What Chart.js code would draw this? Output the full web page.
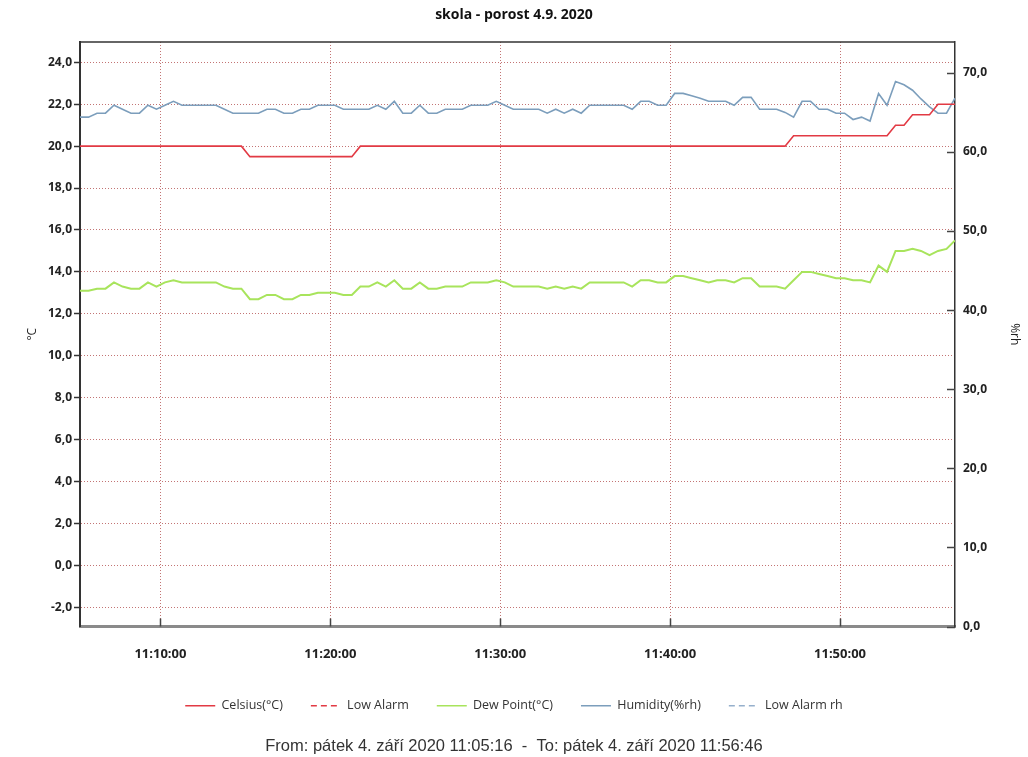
<!DOCTYPE html>
<html>
<head>
<meta charset="utf-8">
<script src="https://cdn.jsdelivr.net/npm/chart.js@4.4.0/dist/chart.umd.min.js"></script>
<style>
  html, body { margin: 0; padding: 0; background: #fff; overflow: hidden; }
  #wrap { width: 1028px; height: 757px; position: relative; }
</style>
</head>
<body>
<div id="wrap"><canvas id="chart"></canvas></div>
<script>
// logger: first sample 11:05:16, one sample every 30 s, last 11:56:46 (in minutes of the day)
const startTime = 11 * 60 + 5 + 16 / 60;
const endTime = 11 * 60 + 56 + 46 / 60;
const logInterval = 0.5;

const seriesNames = ['Celsius(°C)', 'Low Alarm', 'Dew Point(°C)', 'Humidity(%rh)', 'Low Alarm rh'];

const celsius = [
  20.0, 20.0, 20.0, 20.0, 20.0, 20.0, 20.0, 20.0, 20.0, 20.0,
  20.0, 20.0, 20.0, 20.0, 20.0, 20.0, 20.0, 20.0, 20.0, 20.0,
  19.5, 19.5, 19.5, 19.5, 19.5, 19.5, 19.5, 19.5, 19.5, 19.5,
  19.5, 19.5, 19.5, 20.0, 20.0, 20.0, 20.0, 20.0, 20.0, 20.0,
  20.0, 20.0, 20.0, 20.0, 20.0, 20.0, 20.0, 20.0, 20.0, 20.0,
  20.0, 20.0, 20.0, 20.0, 20.0, 20.0, 20.0, 20.0, 20.0, 20.0,
  20.0, 20.0, 20.0, 20.0, 20.0, 20.0, 20.0, 20.0, 20.0, 20.0,
  20.0, 20.0, 20.0, 20.0, 20.0, 20.0, 20.0, 20.0, 20.0, 20.0,
  20.0, 20.0, 20.0, 20.0, 20.5, 20.5, 20.5, 20.5, 20.5, 20.5,
  20.5, 20.5, 20.5, 20.5, 20.5, 20.5, 21.0, 21.0, 21.5, 21.5,
  21.5, 22.0, 22.0, 22.0
];

const dewPoint = [
  13.1, 13.1, 13.2, 13.2, 13.5, 13.3, 13.2, 13.2, 13.5, 13.3,
  13.5, 13.6, 13.5, 13.5, 13.5, 13.5, 13.5, 13.3, 13.2, 13.2,
  12.7, 12.7, 12.9, 12.9, 12.7, 12.7, 12.9, 12.9, 13.0, 13.0,
  13.0, 12.9, 12.9, 13.3, 13.3, 13.5, 13.3, 13.6, 13.2, 13.2,
  13.5, 13.2, 13.2, 13.3, 13.3, 13.3, 13.5, 13.5, 13.5, 13.6,
  13.5, 13.3, 13.3, 13.3, 13.3, 13.2, 13.3, 13.2, 13.3, 13.2,
  13.5, 13.5, 13.5, 13.5, 13.5, 13.3, 13.6, 13.6, 13.5, 13.5,
  13.8, 13.8, 13.7, 13.6, 13.5, 13.6, 13.6, 13.5, 13.7, 13.7,
  13.3, 13.3, 13.3, 13.2, 13.6, 14.0, 14.0, 13.9, 13.8, 13.7,
  13.7, 13.6, 13.6, 13.5, 14.3, 14.0, 15.0, 15.0, 15.1, 15.0,
  14.8, 15.0, 15.1, 15.5
];

const humidity = [
  64.4, 64.4, 64.9, 64.9, 65.9, 65.4, 64.9, 64.9, 65.9, 65.4,
  65.9, 66.4, 65.9, 65.9, 65.9, 65.9, 65.9, 65.4, 64.9, 64.9,
  64.9, 64.9, 65.4, 65.4, 64.9, 64.9, 65.4, 65.4, 65.9, 65.9,
  65.9, 65.4, 65.4, 65.4, 65.4, 65.9, 65.4, 66.4, 64.9, 64.9,
  65.9, 64.9, 64.9, 65.4, 65.4, 65.4, 65.9, 65.9, 65.9, 66.4,
  65.9, 65.4, 65.4, 65.4, 65.4, 64.9, 65.4, 64.9, 65.4, 64.9,
  65.9, 65.9, 65.9, 65.9, 65.9, 65.4, 66.4, 66.4, 65.9, 65.9,
  67.4, 67.4, 67.1, 66.8, 66.4, 66.4, 66.4, 65.9, 66.9, 66.9,
  65.4, 65.4, 65.4, 65.0, 64.4, 66.4, 66.4, 65.4, 65.4, 64.9,
  64.9, 64.1, 64.4, 63.9, 67.4, 65.9, 68.9, 68.5, 67.8, 66.7,
  65.7, 64.9, 64.9, 66.8
];

// no alarm events in this log
const lowAlarm = [];
const lowAlarmRh = [];

// axis ranges
const tempMin = -2.92, tempMax = 24.97, tempStep = 2;
const rhMin = 0, rhMax = 73.9, rhStep = 10;
const timeStep = 10;

const colors = {
  celsius: 'rgb(226,58,68)',
  dew: 'rgb(168,228,92)',
  humidity: 'rgb(124,158,188)',
  alarmRh: 'rgb(150,176,204)',
  grid: 'rgba(175,70,70,0.75)'
};

function toPoints(values) {
  return values.map((v, i) => ({ x: startTime + i * logInterval, y: v }));
}

function fmtTime(min) {
  const sec = Math.round(min * 60);
  const h = Math.floor(sec / 3600);
  const m = Math.floor((sec % 3600) / 60);
  const s = sec % 60;
  return String(h).padStart(2, '0') + ':' + String(m).padStart(2, '0') + ':' + String(s).padStart(2, '0');
}

function fmtNum(v) {
  return v.toFixed(1).replace('.', ',');
}

// horní rámeček a vnitřní značky na ose X a pravé ose
const frameLines = {
  id: 'frameLines',
  afterDatasetsDraw(chart) {
    const { ctx, chartArea: a, scales } = chart;
    ctx.save();
    ctx.strokeStyle = '#333';
    ctx.lineWidth = 1.5;
    ctx.beginPath();
    ctx.moveTo(a.left, a.top);
    ctx.lineTo(a.right, a.top);
    ctx.stroke();
    ctx.strokeStyle = '#444';
    ctx.beginPath();
    scales.x.ticks.forEach(t => {
      const px = Math.round(scales.x.getPixelForValue(t.value)) + 0.5;
      ctx.moveTo(px, a.bottom);
      ctx.lineTo(px, a.bottom - 8);
    });
    scales.y1.ticks.forEach(t => {
      const py = Math.round(scales.y1.getPixelForValue(t.value)) + 0.5;
      ctx.moveTo(a.right, py);
      ctx.lineTo(a.right - 8, py);
    });
    ctx.stroke();
    ctx.restore();
  }
};

const tickFont = { family: 'Open Sans', size: 12, weight: 'bold' };

new Chart(document.getElementById('chart'), {
  type: 'line',
  data: {
    datasets: [
      {
        label: seriesNames[0],
        data: toPoints(celsius),
        yAxisID: 'y',
        borderColor: colors.celsius,
        backgroundColor: colors.celsius,
        borderWidth: 1.6
      },
      {
        label: seriesNames[1],
        data: toPoints(lowAlarm),
        yAxisID: 'y',
        borderColor: colors.celsius,
        backgroundColor: colors.celsius,
        borderWidth: 1.3,
        borderDash: [6, 4]
      },
      {
        label: seriesNames[2],
        data: toPoints(dewPoint),
        yAxisID: 'y',
        borderColor: colors.dew,
        backgroundColor: colors.dew,
        borderWidth: 2
      },
      {
        label: seriesNames[3],
        data: toPoints(humidity),
        yAxisID: 'y1',
        borderColor: colors.humidity,
        backgroundColor: colors.humidity,
        borderWidth: 1.6
      },
      {
        label: seriesNames[4],
        data: toPoints(lowAlarmRh),
        yAxisID: 'y1',
        borderColor: colors.alarmRh,
        backgroundColor: colors.alarmRh,
        borderWidth: 1.3,
        borderDash: [6, 4]
      }
    ]
  },
  options: {
    responsive: true,
    maintainAspectRatio: false,
    animation: false,
    layout: { padding: 0 },
    elements: {
      point: { radius: 0, hoverRadius: 0 },
      line: { tension: 0 }
    },
    scales: {
      x: {
        type: 'linear',
        min: startTime,
        max: endTime,
        grid: { color: colors.grid, lineWidth: 1, drawTicks: false },
        border: { color: '#8a8a8a', width: 3, dash: [1, 2] },
        ticks: {
          stepSize: timeStep,
          includeBounds: false,
          padding: 20,
          maxRotation: 0,
          color: '#222',
          font: { family: 'Open Sans', size: 13, weight: 'bold' },
          callback: v => fmtTime(v)
        },
        afterFit: s => { s.height = 45; }
      },
      y: {
        position: 'left',
        min: tempMin,
        max: tempMax,
        grid: { color: colors.grid, lineWidth: 1, tickLength: 6, tickColor: '#333', tickWidth: 1.5 },
        border: { color: '#333', width: 2, dash: [1, 2] },
        ticks: {
          stepSize: tempStep,
          includeBounds: false,
          padding: 2,
          color: '#222',
          font: tickFont,
          callback: v => fmtNum(v)
        },
        title: {
          display: true,
          text: '°C',
          color: '#222',
          font: { family: 'Open Sans', size: 12 },
          padding: { top: 25, bottom: 0 }
        },
        afterFit: s => { s.width = 80; }
      },
      y1: {
        position: 'right',
        min: rhMin,
        max: rhMax,
        grid: { drawOnChartArea: false, drawTicks: false },
        border: { color: '#333', width: 1.5 },
        ticks: {
          stepSize: rhStep,
          includeBounds: false,
          padding: 8,
          color: '#222',
          font: tickFont,
          callback: v => fmtNum(v)
        },
        title: {
          display: true,
          text: '%rh',
          color: '#222',
          font: { family: 'Open Sans', size: 12 },
          padding: { top: 6, bottom: 0 }
        },
        afterFit: s => { s.width = 73; }
      }
    },
    plugins: {
      title: {
        display: true,
        text: 'skola - porost 4.9. 2020',
        color: '#111',
        font: { family: 'Open Sans', size: 14, weight: 'bold' },
        padding: { top: 6.6, bottom: 18.6 }
      },
      subtitle: {
        display: true,
        position: 'bottom',
        text: 'From: pátek 4. září 2020 11:05:16  -  To: pátek 4. září 2020 11:56:46',
        color: '#333',
        font: { family: 'Liberation Sans', size: 16.5 },
        padding: { top: 14.1, bottom: 1.1 }
      },
      legend: {
        position: 'bottom',
        labels: {
          usePointStyle: true,
          pointStyle: 'line',
          pointStyleWidth: 30,
          padding: 28,
          color: '#333',
          font: { family: 'Open Sans', size: 12.5 },
          generateLabels(chart) {
            const items = Chart.defaults.plugins.legend.labels.generateLabels(chart);
            items.forEach(item => {
              const ds = chart.data.datasets[item.datasetIndex];
              item.lineDash = ds.borderDash || [];
              item.strokeStyle = ds.borderColor;
              item.lineWidth = 1.5;
            });
            return items;
          }
        }
      },
      tooltip: { enabled: false }
    }
  },
  plugins: [frameLines]
});
</script>
</body>
</html>
